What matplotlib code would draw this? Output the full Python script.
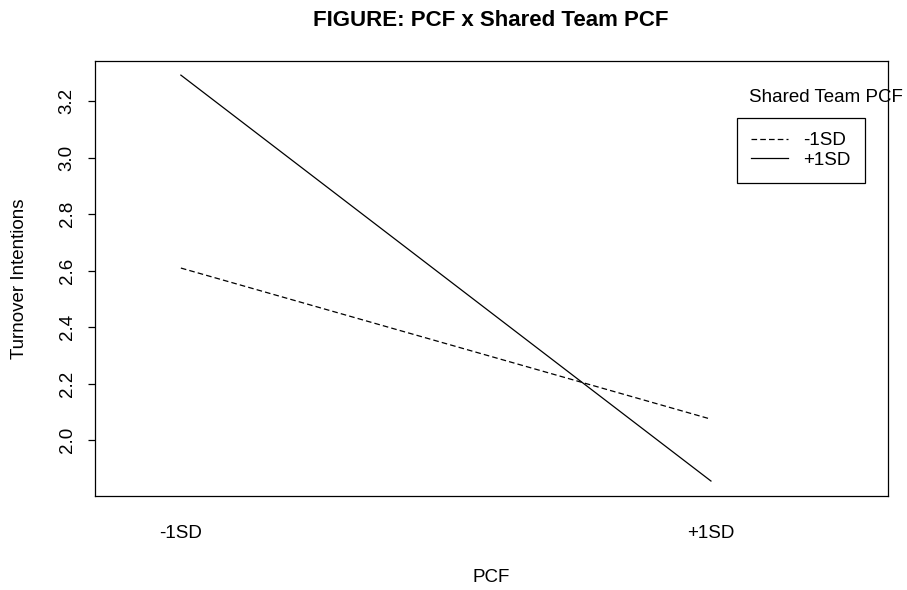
import matplotlib
matplotlib.use("Agg")
import matplotlib.pyplot as plt
from matplotlib.lines import Line2D

plt.rcParams['font.family'] = ['Liberation Sans', 'DejaVu Sans']

# data
pcf_levels = ["-1SD", "+1SD"]
pcf_x = [1, 2]
low_team = [2.609, 2.074]    # Shared Team PCF -1SD
high_team = [3.292, 1.855]   # Shared Team PCF +1SD
y_ticks = [2.0, 2.2, 2.4, 2.6, 2.8, 3.0, 3.2]

FS = 13.5
DASH = (0, (4.5, 2.5))

fig = plt.figure(figsize=(9.07, 5.90), dpi=100)
ax = fig.add_axes([95/907, 1 - 496/590, (888-95)/907, (496-61)/590])

ax.plot(pcf_x, low_team, color="black", linestyle=DASH, linewidth=0.9)
ax.plot(pcf_x, high_team, color="black", linestyle="-", linewidth=0.9)

ax.set_xlim(0.838, 2.334)
ax.set_ylim(1.802, 3.342)

ax.set_xticks(pcf_x)
ax.set_xticklabels(pcf_levels, fontsize=FS)
ax.tick_params(axis="x", length=0, pad=21)
ax.set_yticks(y_ticks)
ax.set_yticklabels([f"{v:.1f}" for v in y_ticks], fontsize=FS, rotation=90, va="center")
ax.tick_params(axis="y", length=5, width=0.9, pad=9)

for s in ax.spines.values():
    s.set_linewidth(0.9)

ax.set_xlabel("PCF", fontsize=FS, va="center")
ax.xaxis.set_label_coords(0.5, (496 - 577) / (496 - 61))
ax.set_ylabel("Turnover Intentions", fontsize=FS, va="center")
ax.yaxis.set_label_coords((20 - 95) / (888 - 95), 0.5)

fig.text(491/907, 1 - 20/590, "FIGURE: PCF x Shared Team PCF", fontsize=16,
         fontweight="bold", ha="center", va="center")

handles = [Line2D([], [], color="black", linestyle=DASH, linewidth=0.9),
           Line2D([], [], color="black", linestyle="-", linewidth=0.9)]
leg = ax.legend(handles, pcf_levels, loc="upper left",
                bbox_to_anchor=((737-95)/(888-95), (496-118)/(496-61)),
                fontsize=FS, frameon=True, fancybox=False, edgecolor="black",
                framealpha=1, borderpad=0.75, handlelength=1.95, handletextpad=0.85,
                labelspacing=0.12, borderaxespad=0)
leg.get_frame().set_linewidth(0.9)

fig.text(826/907, 1 - 97/590, "Shared Team PCF", fontsize=FS, ha="center", va="center")

fig.savefig("out.png", dpi=100)
